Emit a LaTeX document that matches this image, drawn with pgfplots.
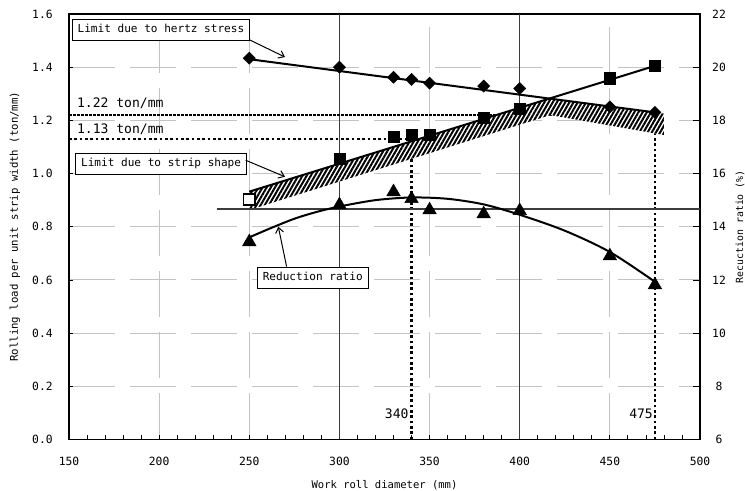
\documentclass[border=0pt]{standalone}
\usepackage{fontspec}
\setmainfont{DejaVu Sans Mono}
\usepackage{pgfplots}
\pgfplotsset{compat=1.18}
\usetikzlibrary{patterns.meta,calc,arrows.meta}
\definecolor{gridgray}{RGB}{195,195,195}
\definecolor{darkline}{RGB}{60,60,60}
\begin{document}
\begin{tikzpicture}
\begin{axis}[
  name=main,
  scale only axis, width=473.25pt, height=319.1pt,
  xmin=150, xmax=500, ymin=0, ymax=1.6,
  xtick={150,200,250,300,350,400,450,500},
  ytick={0,0.2,0.4,0.6,0.8,1.0,1.2,1.4,1.6},
  minor x tick num=4,
  xtick pos=bottom, ytick pos=left,
  tick align=inside,
  major tick length=3.2pt, minor tick length=3pt,
  tick style={black, line width=0.6pt},
  axis line style={black, line width=1pt},
  grid=major,
  major grid style={draw=gridgray, line width=0.75pt, dash pattern=on 34.5pt off 11.25pt},
  /pgf/number format/assume math mode=true,
  yticklabel style={/pgf/number format/fixed,/pgf/number format/fixed zerofill,/pgf/number format/precision=1, anchor=center, xshift=-19.9pt},
  xticklabel style={anchor=center, yshift=-16.1pt},
  tick label style={font=\fontsize{8.5}{10}\selectfont},
  xlabel={Work roll diameter (mm)},
  ylabel={Rolling load per unit strip width (ton/mm)},
  xlabel style={at={(axis description cs:0.5,-0.107)}, anchor=center, font=\fontsize{7.9}{9}\selectfont},
  ylabel style={at={(axis description cs:-0.0856,0.5)}, anchor=center, font=\fontsize{8}{9}\selectfont},
  clip=false,
]
% dark vertical lines
\addplot[darkline, line width=1pt] coordinates {(300,0) (300,1.6)};
\addplot[darkline, line width=1pt] coordinates {(400,0) (400,1.6)};
% reference lines
\addplot[black, line width=1.1pt, dash pattern=on 2pt off 1pt] coordinates {(150,1.22) (475,1.22)};
\addplot[black, line width=2pt, dash pattern=on 2pt off 2pt] coordinates {(150,1.13) (340,1.13)};
\addplot[black, line width=2pt, dash pattern=on 2pt off 2pt] coordinates {(340,0) (340,1.13)};
\addplot[black, line width=2pt, dash pattern=on 2pt off 2pt] coordinates {(475,0) (475,1.22)};
% first square (partly hidden by band)
\addplot[only marks, mark=square*, mark size=4.2pt, mark options={fill=white, draw=black, line width=1.2pt}] coordinates {(250,0.903)};
% hatched band
\addplot[draw=none, fill=white, postaction={pattern={Lines[angle=60,distance=2.7pt,line width=1.5pt]}, pattern color=black}]
  coordinates {(250,0.932) (416.5,1.282) (480,1.2255) (480,1.145) (417,1.22) (250,0.863)};
% strip shape line + squares
\addplot[black, line width=1.5pt] coordinates {(250,0.932) (475,1.405)};
\addplot[only marks, mark=square*, mark size=4.2pt, mark options={fill=black, draw=black}]
  coordinates {(300,1.055) (330,1.138) (340,1.145) (350,1.147) (380,1.211) (400,1.245) (450,1.358) (475,1.405)};
% hertz line + diamonds
\addplot[black, line width=1.5pt] coordinates {(250,1.43) (475,1.23)};
\addplot[only marks, mark=square*, mark size=3.2pt, mark options={rotate=45, fill=black, draw=black}]
  coordinates {(250,1.434) (300,1.40) (330,1.362) (340,1.354) (350,1.34) (380,1.329) (400,1.32) (450,1.251) (475,1.23)};
% annotations
\node[draw=black, fill=white, line width=0.75pt, inner xsep=4pt, inner ysep=4pt, text height=6.2pt, text depth=1.8pt, font=\fontsize{8.3}{10}\selectfont] (hz) at (axis cs:201.0,1.541) {Limit due to hertz stress};
\draw[black, line width=0.75pt, -{Straight Barb[length=4pt,width=6pt]}] (axis cs:250.4,1.502) -- (axis cs:269.8,1.438);
\node[draw=black, fill=white, line width=0.75pt, inner xsep=4pt, inner ysep=4pt, text height=6.2pt, text depth=1.8pt, font=\fontsize{8.3}{10}\selectfont] at (axis cs:201.1,1.037) {Limit due to strip shape};
\draw[black, line width=0.75pt, -{Straight Barb[length=4pt,width=6pt]}] (axis cs:248,1.05) -- (axis cs:269.8,0.988);
\node[draw=black, fill=white, line width=0.75pt, inner xsep=4pt, inner ysep=4pt, text height=6.2pt, text depth=1.8pt, font=\fontsize{8.3}{10}\selectfont] at (axis cs:285.2,0.607) {Reduction ratio};
\draw[black, line width=0.75pt, -{Straight Barb[length=4pt,width=6pt]}] (axis cs:270.7,0.65) -- (axis cs:266.1,0.80);
\node[anchor=west, inner sep=0pt, font=\fontsize{9.8}{11}\selectfont] at (axis cs:154.3,1.264) {1.22 ton/mm};
\node[anchor=west, inner sep=0pt, font=\fontsize{9.8}{11}\selectfont] at (axis cs:154.3,1.167) {1.13 ton/mm};
\node[anchor=east, inner sep=0pt, font=\fontsize{9.8}{11}\selectfont] at (axis cs:338.5,0.095) {340};
\node[anchor=east, inner sep=0pt, font=\fontsize{9.8}{11}\selectfont] at (axis cs:474.0,0.095) {475};
\end{axis}
\begin{axis}[
  scale only axis, width=473.25pt, height=319.1pt,
  xmin=150, xmax=500, ymin=6, ymax=22,
  axis x line=none, axis y line*=right,
  ytick={6,8,10,12,14,16,18,20,22},
  tick align=inside,
  major tick length=5pt,
  tick style={black, line width=0.6pt},
  axis line style={black, line width=1pt},
  /pgf/number format/assume math mode=true,
  yticklabel style={anchor=center, xshift=14.25pt},
  tick label style={font=\fontsize{8.5}{10}\selectfont},
  ylabel={Recuction ratio (\%)},
  ylabel style={at={(axis description cs:1.0634,0.5)}, anchor=center, rotate=0, font=\fontsize{7.4}{9}\selectfont},
  clip=false,
]
\addplot[darkline, line width=1pt] coordinates {(232,14.67) (500,14.67)};
\addplot[black, line width=1.5pt, smooth] coordinates {(250,13.6) (262,13.95) (275,14.3) (287,14.55) (300,14.76) (320,15.0) (340,15.1) (360,15.05) (380,14.84) (400,14.45) (425,13.85) (450,13.05) (475,11.93)};
\addplot[only marks, mark=triangle*, mark size=5.8pt, mark options={fill=black, draw=black}]
  coordinates {(250,13.43) (300,14.82) (330,15.31) (340,15.05) (350,14.63) (380,14.48) (400,14.6) (450,12.9) (475,11.81)};
\end{axis}
\pgfresetboundingbox
\path ($(main.south west)+(-51.75pt,-38.6pt)$) rectangle ($(main.north east)+(33.75pt,10.5pt)$);
\end{tikzpicture}
\end{document}
